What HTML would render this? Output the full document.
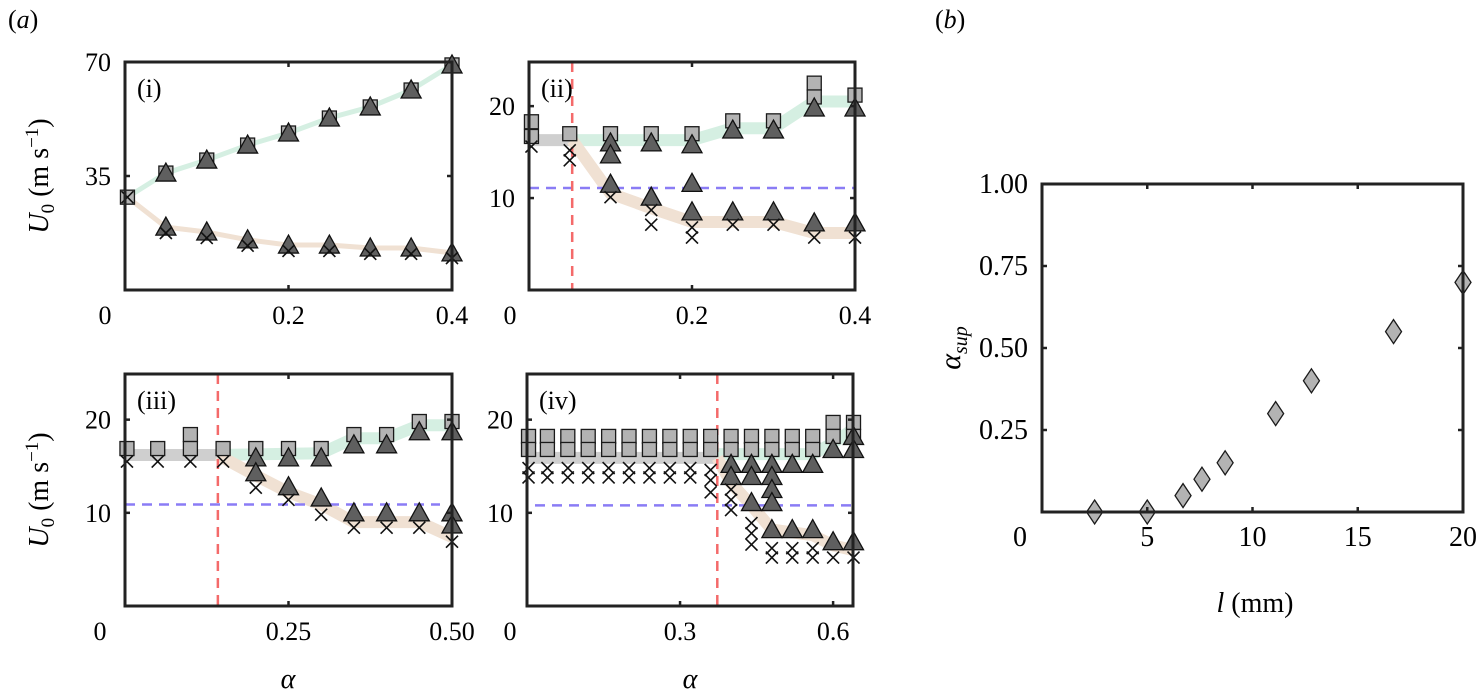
<!DOCTYPE html>
<html><head><meta charset="utf-8"><style>
html,body{margin:0;padding:0;background:#fff;}
svg{display:block;font-family:"Liberation Serif",serif;}
</style></head><body>
<svg id="fig" width="1479" height="697" viewBox="0 0 1479 697">
<text x="8" y="28" font-size="26">(<tspan font-style="italic">a</tspan>)</text>
<text x="935" y="28" font-size="26">(<tspan font-style="italic">b</tspan>)</text>
<text transform="translate(48,176) rotate(-90)" text-anchor="middle" font-size="28"><tspan font-style="italic">U</tspan><tspan font-size="19" dy="6">0</tspan><tspan dy="-6"> (m s</tspan><tspan font-size="19" dy="-10">−1</tspan><tspan dy="10">)</tspan></text>
<text transform="translate(48,490) rotate(-90)" text-anchor="middle" font-size="28"><tspan font-style="italic">U</tspan><tspan font-size="19" dy="6">0</tspan><tspan dy="-6"> (m s</tspan><tspan font-size="19" dy="-10">−1</tspan><tspan dy="10">)</tspan></text>
<text x="288" y="688" text-anchor="middle" font-size="28" font-style="italic">α</text>
<text x="690" y="688" text-anchor="middle" font-size="28" font-style="italic">α</text>
<text transform="translate(960,348) rotate(-90)" text-anchor="middle" font-size="30" font-style="italic">α<tspan font-size="20" dy="7">sup</tspan></text>
<text x="1255" y="612" text-anchor="middle" font-size="28"><tspan font-style="italic">l</tspan> (mm)</text>
<g id="plots"></g>
</svg>
<script>
// ---- Panel (i) data ----
const p1Upper = [[0.003,28.5],[0.05,35.9],[0.1,39.9],[0.15,44.5],[0.2,48.2],[0.25,52.8],[0.3,56.2],[0.35,61.4],[0.4,69.1]];
const p1UpperTri = [[0.05,35.9],[0.1,39.9],[0.15,44.5],[0.2,48.2],[0.25,52.8],[0.3,56.2],[0.35,61.4],[0.4,69.1]];
const p1LowerTri = [[0.05,19.3],[0.1,17.8],[0.15,15.4],[0.2,13.8],[0.25,13.8],[0.3,12.9],[0.35,12.9],[0.4,11.4]];
const p1Cross = [[0.003,28.5],[0.05,17.5],[0.1,16.0],[0.15,13.6],[0.2,12.0],[0.25,12.0],[0.3,11.1],[0.35,11.1],[0.4,9.8]];
const p1Green = [[0.003,28.5],[0.05,35.9],[0.1,39.9],[0.15,44.5],[0.2,48.2],[0.25,52.8],[0.3,56.2],[0.35,61.4],[0.4,69.1]];
const p1Tan = [[0.003,28.5],[0.05,19.3],[0.1,17.8],[0.15,15.4],[0.2,13.8],[0.25,13.8],[0.3,12.9],[0.35,12.9],[0.4,11.4]];
const p1Grey = [];
// ---- Panel (ii) data ----
const p2Sq = [[0.003,18.3],[0.003,16.7],[0.05,17],[0.1,17],[0.15,17],[0.2,17],[0.25,18.4],[0.3,18.4],[0.35,22.5],[0.35,21.0],[0.4,21.2]];
const p2UpperTri = [[0.1,16.0],[0.1,14.7],[0.15,16.0],[0.2,15.8],[0.25,17.4],[0.3,17.4],[0.35,19.8],[0.4,19.8]];
const p2LowerTri = [[0.1,11.5],[0.15,10.1],[0.2,11.6],[0.2,8.5],[0.25,8.5],[0.3,8.5],[0.35,7.3],[0.4,7.3]];
const p2Cross = [[0.003,15.6],[0.05,15.2],[0.05,14.1],[0.1,10.1],[0.15,8.7],[0.15,7.1],[0.2,6.8],[0.2,5.7],[0.25,7.1],[0.3,7.1],[0.35,5.7],[0.4,5.7]];
const p2Grey = [[0.003,16.3],[0.053,16.3]];
const p2Green = [[0.053,16.3],[0.2,16.3],[0.25,17.6],[0.3,17.6],[0.35,20.5],[0.4,20.5]];
const p2Tan = [[0.053,16.3],[0.1,10.5],[0.15,8.9],[0.2,7.4],[0.3,7.4],[0.35,6.2],[0.4,6.2]];
const p2Crit = 0.053, p2Hline = 11.1;
// ---- Panel (iii) data ----
const p3Sq = [[0.003,16.9],[0.05,16.9],[0.1,18.4],[0.1,16.9],[0.15,16.9],[0.2,16.9],[0.25,16.9],[0.3,16.9],[0.35,18.4],[0.4,18.4],[0.45,19.8],[0.5,19.8]];
const p3UpperTri = [[0.2,15.9],[0.25,15.9],[0.3,15.9],[0.35,17.3],[0.4,17.3],[0.45,18.7],[0.5,18.7]];
const p3LowerTri = [[0.2,14.3],[0.25,12.8],[0.3,11.6],[0.35,10.0],[0.4,10.0],[0.45,10.0],[0.5,10.0],[0.5,8.7]];
const p3Cross = [[0.003,15.5],[0.05,15.5],[0.1,15.5],[0.15,15.5],[0.2,12.7],[0.25,11.4],[0.3,9.8],[0.35,8.4],[0.4,8.4],[0.45,8.4],[0.5,6.9]];
const p3Grey = [[0.003,16.2],[0.142,16.2]];
const p3Green = [[0.142,16.2],[0.3,16.4],[0.35,18.0],[0.4,18.0],[0.45,19.4],[0.5,19.4]];
const p3Tan = [[0.142,16.2],[0.2,14.0],[0.25,12.2],[0.3,10.9],[0.35,9.0],[0.45,9.0],[0.5,7.4]];
const p3Crit = 0.142, p3Hline = 10.9;
// ---- Panel (iv) data ----
const p4Alpha = [0.003,0.04,0.08,0.12,0.16,0.2,0.24,0.28,0.32,0.36,0.4,0.44,0.48,0.52,0.56,0.6,0.64];
const p4SqHigh = [18.2,18.2,18.2,18.2,18.2,18.2,18.2,18.2,18.2,18.2,18.2,18.2,18.2,18.2,18.2,19.7,19.7];
const p4SqLow = [16.8,16.8,16.8,16.8,16.8,16.8,16.8,16.8,16.8,16.8,16.8,16.8,16.8,16.8,16.8,18.2,18.2];
const p4UpperTri = [[0.4,15.2],[0.44,15.2],[0.48,15.2],[0.52,15.2],[0.56,15.2],[0.6,16.8],[0.64,18.2],[0.64,16.8]];
const p4LowerTri = [[0.4,13.9],[0.44,13.9],[0.44,11.1],[0.48,13.9],[0.48,12.5],[0.48,11.1],[0.48,8.2],[0.52,8.2],[0.56,8.2],[0.6,6.9],[0.64,6.9]];
const p4Cross = [[0.003,14.8],[0.003,13.8],[0.04,14.8],[0.04,13.8],[0.08,14.8],[0.08,13.8],[0.12,14.8],[0.12,13.8],[0.16,14.8],[0.16,13.8],[0.2,14.8],[0.2,13.8],[0.24,14.8],[0.24,13.8],[0.28,14.8],[0.28,13.8],[0.32,14.8],[0.32,13.8],[0.36,14.6],[0.36,13.5],[0.36,12.2],[0.4,12.5],[0.4,11.4],[0.4,10.3],[0.44,8.9],[0.44,7.8],[0.44,6.6],[0.48,6.2],[0.48,5.2],[0.52,6.2],[0.52,5.2],[0.56,6.2],[0.56,5.2],[0.6,5.2],[0.64,5.2]];
const p4Grey = [[0.003,15.9],[0.373,15.9]];
const p4Green = [[0.373,16.3],[0.56,16.3],[0.6,17.5],[0.64,19.0]];
const p4Tan = [[0.373,15.9],[0.4,13.2],[0.44,10.8],[0.48,8.2],[0.56,7.6],[0.6,6.5],[0.64,6.0]];
const p4Crit = 0.373, p4Hline = 10.8;
// ---- Panel (b) data ----
const bL = [2.5,5,6.7,7.6,8.7,11.1,12.8,16.7,20];
const bAlphaSup = [0,0,0.05,0.1,0.15,0.3,0.4,0.55,0.7];
const bXTicks = [0,5,10,15,20];
const bYTicks = [0.25,0.5,0.75,1.0];
const bYTickLabels = ["0.25","0.50","0.75","1.00"];

const NS = "http://www.w3.org/2000/svg";
const root = document.getElementById('plots');
function mk(tag, attrs, parent){
  const e = document.createElementNS(NS, tag);
  for (const k in attrs) e.setAttribute(k, attrs[k]);
  (parent||root).appendChild(e);
  return e;
}
function panel(cfg){
  const g = mk('g', {});
  
  
  const sx = v => cfg.x0 + (v - cfg.xmin) / (cfg.xmax - cfg.xmin) * (cfg.x1 - cfg.x0);
  const sy = v => cfg.y1 - (v - cfg.ymin) / (cfg.ymax - cfg.ymin) * (cfg.y1 - cfg.y0);
  const bw = cfg.band || 12;
  const fs = cfg.fs || 26;
  function band(pts, color, nm){
    if (!pts || !pts.length) return;
    const p = mk('polyline', {points: pts.map(q => sx(q[0]) + ',' + sy(q[1])).join(' '), fill:'none', stroke:color, 'stroke-width':bw, 'stroke-linejoin':'round', 'stroke-linecap':'butt'}, g);
    
    
  }
  band(cfg.grey, '#cfcfcf', 'grey-band');
  band(cfg.green, '#d5efe2', 'green-band');
  band(cfg.tan, '#f0e1d3', 'tan-band');
  if (cfg.hline != null){
    const l = mk('line', {x1: cfg.hx0 || cfg.x0, x2: cfg.hx1 || cfg.x1, y1: sy(cfg.hline), y2: sy(cfg.hline), stroke:'#8a7cf5', 'stroke-width':2.5, 'stroke-dasharray':'10,7'}, g);
    
    
  }
  if (cfg.crit != null){
    const l = mk('line', {x1: sx(cfg.crit), x2: sx(cfg.crit), y1: cfg.y0, y2: cfg.y1, stroke:'#f46a6a', 'stroke-width':2.5, 'stroke-dasharray':'10,7'}, g);
    
    
  }
  (cfg.sq || []).forEach(q => {
    const r = mk('rect', {x: sx(q[0]) - 7, y: sy(q[1]) - 7, width: 14, height: 14, fill:'#b3b3b3', stroke:'#1a1a1a', 'stroke-width':1.3}, g);
    
    
  });
  (cfg.tri || []).forEach(q => {
    const x = sx(q[0]), y = sy(q[1]);
    const t = mk('polygon', {points: (x-10)+','+(y+8)+' '+(x+10)+','+(y+8)+' '+x+','+(y-10), fill:'#5f5f5f', stroke:'#111', 'stroke-width':1.3}, g);
    
    
  });
  (cfg.cross || []).forEach(q => {
    const x = sx(q[0]), y = sy(q[1]);
    const c = mk('path', {d: 'M'+(x-6)+','+(y-6)+'L'+(x+6)+','+(y+6)+'M'+(x-6)+','+(y+6)+'L'+(x+6)+','+(y-6), stroke:'#111', 'stroke-width':1.6, fill:'none'}, g);
    
    
  });
  (cfg.dia || []).forEach(q => {
    const x = sx(q[0]), y = sy(q[1]);
    const d = mk('polygon', {points: x+','+(y-12)+' '+(x+8)+','+y+' '+x+','+(y+12)+' '+(x-8)+','+y, fill:'#b3b3b3', stroke:'#1a1a1a', 'stroke-width':1.3}, g);
    
    
  });
  const fr = mk('rect', {x: cfg.x0, y: cfg.y0, width: cfg.x1 - cfg.x0, height: cfg.y1 - cfg.y0, fill:'none', stroke:'#222', 'stroke-width':3}, g);
  
  
  cfg.xticks.forEach((v, i) => {
    const x = sx(v);
    mk('line', {x1:x, x2:x, y1:cfg.y1, y2:cfg.y1-5, stroke:'#222', 'stroke-width':2.5}, g);
    mk('line', {x1:x, x2:x, y1:cfg.y0, y2:cfg.y0+5, stroke:'#222', 'stroke-width':2.5}, g);
    const lx = (v === 0 && cfg.zeroX != null) ? cfg.zeroX : x;
    const t = mk('text', {x: lx, y: cfg.y1 + 34, 'text-anchor':'middle', 'font-size':fs}, g);
    t.textContent = cfg.xlabels[i];
    
    
  });
  cfg.yticks.forEach((v, i) => {
    const y = sy(v);
    mk('line', {x1:cfg.x0, x2:cfg.x0+5, y1:y, y2:y, stroke:'#222', 'stroke-width':2.5}, g);
    mk('line', {x1:cfg.x1, x2:cfg.x1-5, y1:y, y2:y, stroke:'#222', 'stroke-width':2.5}, g);
    const t = mk('text', {x: cfg.x0 - 14, y: y + 9, 'text-anchor':'end', 'font-size':fs}, g);
    t.textContent = cfg.ylabels[i];
    
    
  });
  if (cfg.tag){
    const t = mk('text', {x: cfg.x0 + 12, y: cfg.y0 + 35, 'font-size':26}, g);
    t.textContent = cfg.tag;
    
    
  }
}
panel({name:'panel-i', x0:125, x1:452, y0:62, y1:290, xmin:0, xmax:0.4, ymin:0, ymax:70, band:5,
  xticks:[0,0.2,0.4], xlabels:['0','0.2','0.4'], zeroX:105, yticks:[35,70], ylabels:['35','70'], tag:'(i)',
  green:p1Green, tan:p1Tan, grey:p1Grey, sq:p1Upper, tri:p1UpperTri.concat(p1LowerTri), cross:p1Cross});
panel({name:'panel-ii', x0:529, x1:855, y0:62, y1:290, xmin:0, xmax:0.4, ymin:0, ymax:24.8,
  xticks:[0,0.2,0.4], xlabels:['0','0.2','0.4'], zeroX:510, yticks:[10,20], ylabels:['10','20'], tag:'(ii)',
  green:p2Green, tan:p2Tan, grey:p2Grey, hline:p2Hline, crit:p2Crit, sq:p2Sq, tri:p2UpperTri.concat(p2LowerTri), cross:p2Cross});
panel({name:'panel-iii', x0:125, x1:452, y0:374, y1:606, xmin:0, xmax:0.5, ymin:0, ymax:24.9,
  xticks:[0,0.25,0.5], xlabels:['0','0.25','0.50'], zeroX:100, yticks:[10,20], ylabels:['10','20'], tag:'(iii)',
  green:p3Green, tan:p3Tan, grey:p3Grey, hline:p3Hline, hx1:440, crit:p3Crit, sq:p3Sq, tri:p3UpperTri.concat(p3LowerTri), cross:p3Cross});
const p4Sq = [];
p4Alpha.forEach((a, i) => { p4Sq.push([a, p4SqHigh[i]]); p4Sq.push([a, p4SqLow[i]]); });
panel({name:'panel-iv', x0:527, x1:853, y0:374, y1:606, xmin:0, xmax:0.639, ymin:0, ymax:24.9,
  xticks:[0,0.3,0.6], xlabels:['0','0.3','0.6'], zeroX:510, yticks:[10,20], ylabels:['10','20'], tag:'(iv)',
  green:p4Green, tan:p4Tan, grey:p4Grey, hline:p4Hline, hx0:535, crit:p4Crit, sq:p4Sq, tri:p4UpperTri.concat(p4LowerTri), cross:p4Cross});
panel({name:'panel-b', x0:1042, x1:1463, y0:184, y1:512, xmin:0, xmax:20, ymin:0, ymax:1, fs:28,
  xticks:bXTicks, xlabels:bXTicks.map(String), zeroX:1020, yticks:bYTicks, ylabels:bYTickLabels,
  dia: bL.map((l, i) => [l, bAlphaSup[i]])});
</script>
</body></html>
